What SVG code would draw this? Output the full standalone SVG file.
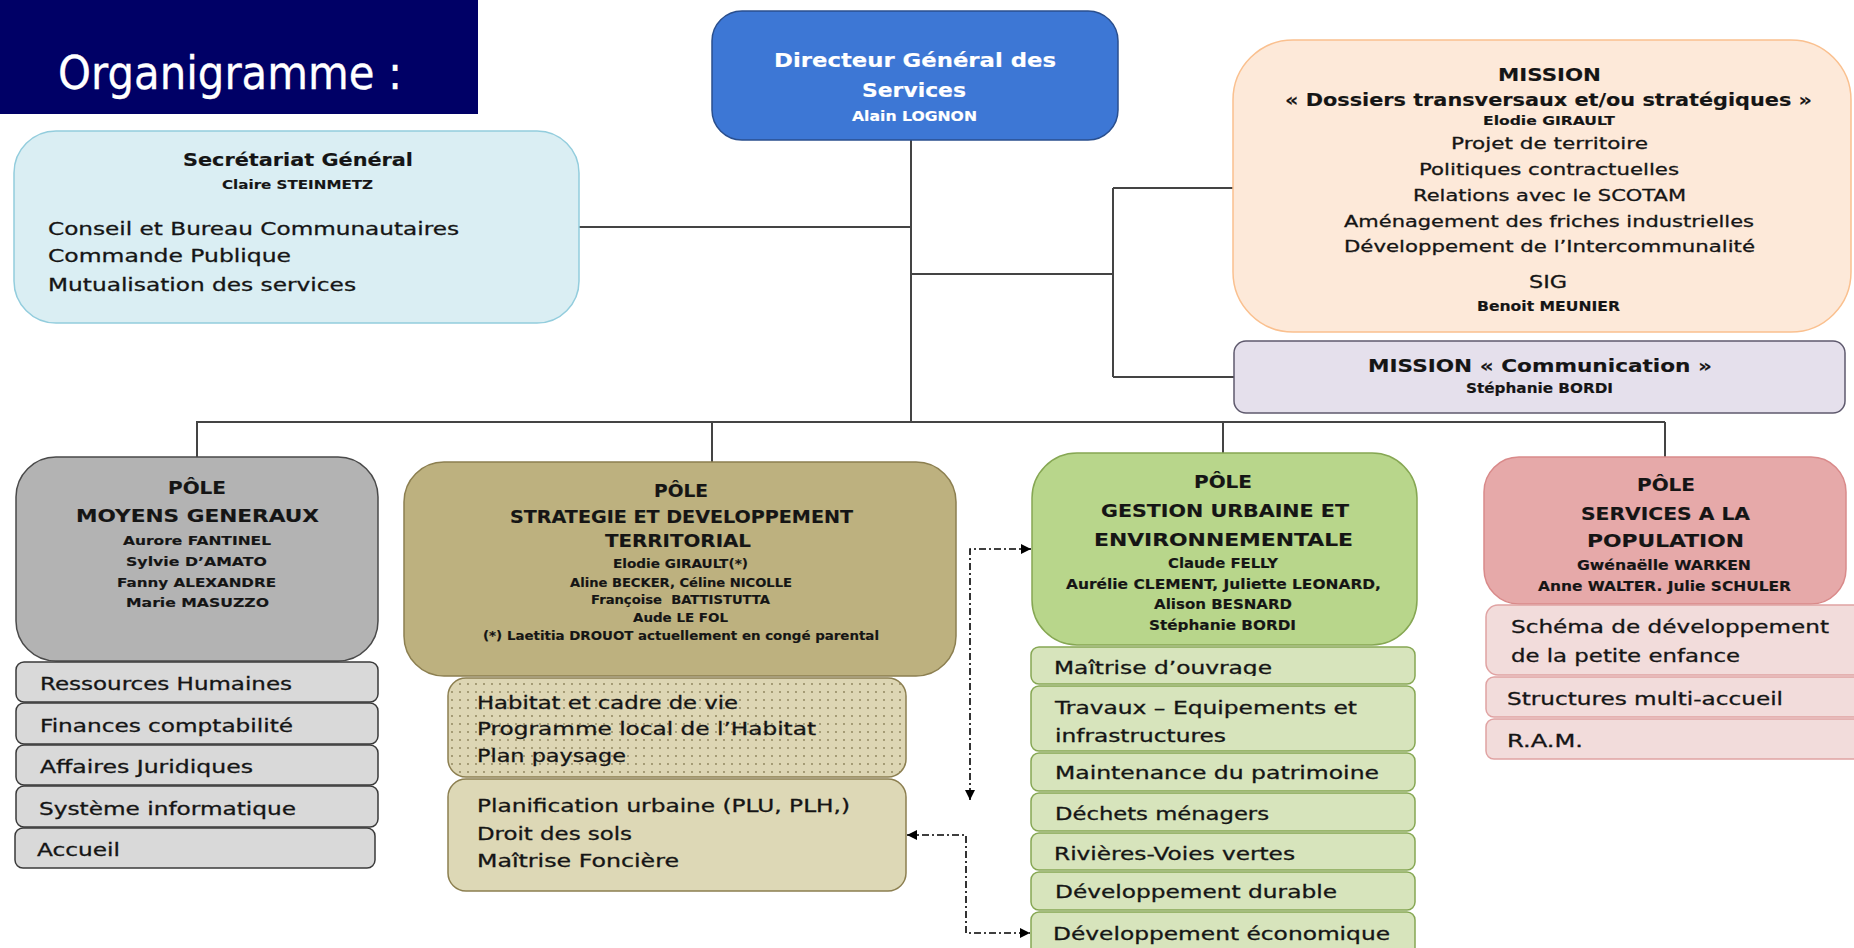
<svg xmlns="http://www.w3.org/2000/svg" width="1854" height="948" viewBox="0 0 1854 948">
<style>
text{font-family:"DejaVu Sans","Liberation Sans",sans-serif;fill:#151515;stroke:#151515;stroke-width:0.3}
.b{font-weight:bold;stroke-width:0.15}
.w{fill:#ffffff;stroke:#ffffff}
.ln{fill:none;stroke:#444;stroke-width:2}
.dd{fill:none;stroke:#000;stroke-width:1.6;stroke-dasharray:7 3 2 3}
.gp{fill:#b3b3b3;stroke:#4a4a4a;stroke-width:1.5}
.gi{fill:#d9d9d9;stroke:#3a3a3a;stroke-width:1.5}
.sp{fill:#bdb17f;stroke:#8c7f50;stroke-width:1.5}
.si{fill:#ddd8b6;stroke:#8c7f50;stroke-width:1.5}
.vp{fill:#b8d68b;stroke:#86a753;stroke-width:1.5}
.vi{fill:#d7e4bc;stroke:#86a753;stroke-width:1.5}
.rp{fill:#e6a9a9;stroke:#d98a8a;stroke-width:1.5}
.ri{fill:#f2dcdb;stroke:#e0a3a3;stroke-width:1.5}
</style>
<defs>
<marker id="ar" viewBox="0 0 10 10" refX="10" refY="5" markerWidth="11" markerHeight="10" markerUnits="userSpaceOnUse" orient="auto-start-reverse">
<path d="M0,0 L10,5 L0,10 z" fill="#000"/>
</marker>
<pattern id="dots" width="8" height="8" patternUnits="userSpaceOnUse">
<rect width="8" height="8" fill="#ddd6b4"/>
<circle cx="4" cy="4" r="0.9" fill="#8a7f58"/>
</pattern>
<clipPath id="c1"><rect x="1031" y="600" width="384" height="32"/></clipPath>
<clipPath id="c2"><rect x="1031" y="647" width="384" height="29"/></clipPath>
</defs>

<g id="title">
<rect x="0" y="0" width="478" height="114" fill="#000066"/>
<text class="w" x="58" y="89" font-size="46" textLength="344" lengthAdjust="spacingAndGlyphs">Organigramme :</text>
</g>

<g id="connectors">
<path class="ln" d="M911 140 V422"/>
<path class="ln" d="M579 227 H911"/>
<path class="ln" d="M911 274 H1113"/>
<path class="ln" d="M1113 188 V377"/>
<path class="ln" d="M1113 188 H1234"/>
<path class="ln" d="M1113 377 H1234"/>
<path class="ln" d="M196 422 H1665"/>
<path class="ln" d="M197 422 V457"/>
<path class="ln" d="M712 422 V462"/>
<path class="ln" d="M1223 422 V453"/>
<path class="ln" d="M1665 422 V457"/>
<path class="dd" d="M1031 549 H970 V800" marker-start="url(#ar)" marker-end="url(#ar)"/>
<path class="dd" d="M907 835 H966 V933 H1030" marker-start="url(#ar)" marker-end="url(#ar)"/>
</g>

<g id="dgs">
<rect x="712" y="11" width="406" height="129" rx="30" fill="#3d77d5" stroke="#2a4f8e" stroke-width="1.5"/>
<text class="w b" x="774" y="67" font-size="20" textLength="282" lengthAdjust="spacingAndGlyphs">Directeur Général des</text>
<text class="w b" x="862" y="97" font-size="20" textLength="104" lengthAdjust="spacingAndGlyphs">Services</text>
<text class="w b" x="852" y="121" font-size="13.5" textLength="125" lengthAdjust="spacingAndGlyphs">Alain LOGNON</text>
</g>

<g id="secretariat">
<rect x="14" y="131" width="565" height="192" rx="42" fill="#daeef3" stroke="#93cddd" stroke-width="1.5"/>
<text class="b" x="183" y="166" font-size="17.5" textLength="230" lengthAdjust="spacingAndGlyphs">Secrétariat Général</text>
<text class="b" x="222" y="189" font-size="13" textLength="151" lengthAdjust="spacingAndGlyphs">Claire STEINMETZ</text>
<text x="48" y="235" font-size="18" textLength="411" lengthAdjust="spacingAndGlyphs">Conseil et Bureau Communautaires</text>
<text x="48" y="262" font-size="18" textLength="243" lengthAdjust="spacingAndGlyphs">Commande Publique</text>
<text x="48" y="291" font-size="18" textLength="308" lengthAdjust="spacingAndGlyphs">Mutualisation des services</text>
</g>

<g id="mission">
<rect x="1233" y="40" width="618" height="292" rx="60" fill="#fde9d9" stroke="#fac08f" stroke-width="1.5"/>
<text class="b" x="1498" y="81" font-size="18" textLength="103" lengthAdjust="spacingAndGlyphs">MISSION</text>
<text class="b" x="1285" y="106" font-size="18" textLength="527" lengthAdjust="spacingAndGlyphs">« Dossiers transversaux et/ou stratégiques »</text>
<text class="b" x="1483" y="125" font-size="12.5" textLength="132" lengthAdjust="spacingAndGlyphs">Elodie GIRAULT</text>
<text x="1451" y="149" font-size="16.5" textLength="197" lengthAdjust="spacingAndGlyphs">Projet de territoire</text>
<text x="1419" y="175" font-size="16.5" textLength="260" lengthAdjust="spacingAndGlyphs">Politiques contractuelles</text>
<text x="1413" y="201" font-size="16.5" textLength="273" lengthAdjust="spacingAndGlyphs">Relations avec le SCOTAM</text>
<text x="1344" y="227" font-size="16.5" textLength="410" lengthAdjust="spacingAndGlyphs">Aménagement des friches industrielles</text>
<text x="1344" y="252" font-size="16.5" textLength="411" lengthAdjust="spacingAndGlyphs">Développement de l’Intercommunalité</text>
<text x="1529" y="288" font-size="17.5" textLength="38" lengthAdjust="spacingAndGlyphs">SIG</text>
<text class="b" x="1477" y="311" font-size="13.5" textLength="143" lengthAdjust="spacingAndGlyphs">Benoit MEUNIER</text>
</g>

<g id="communication">
<rect x="1234" y="341" width="611" height="72" rx="12" fill="#e5e0ec" stroke="#5f5a6e" stroke-width="1.5"/>
<text class="b" x="1368" y="372" font-size="18" textLength="344" lengthAdjust="spacingAndGlyphs">MISSION « Communication »</text>
<text class="b" x="1466" y="393" font-size="13.5" textLength="147" lengthAdjust="spacingAndGlyphs">Stéphanie BORDI</text>
</g>

<g id="pole-moyens">
<rect class="gp" x="16" y="457" width="362" height="204" rx="40"/>
<text class="b" x="168" y="494" font-size="17" textLength="58" lengthAdjust="spacingAndGlyphs">PÔLE</text>
<text class="b" x="76" y="522" font-size="17" textLength="243" lengthAdjust="spacingAndGlyphs">MOYENS GENERAUX</text>
<text class="b" x="123" y="545" font-size="12.5" textLength="148" lengthAdjust="spacingAndGlyphs">Aurore FANTINEL</text>
<text class="b" x="126" y="566" font-size="12.5" textLength="141" lengthAdjust="spacingAndGlyphs">Sylvie D’AMATO</text>
<text class="b" x="117" y="587" font-size="12.5" textLength="159" lengthAdjust="spacingAndGlyphs">Fanny ALEXANDRE</text>
<text class="b" x="126" y="607" font-size="12.5" textLength="143" lengthAdjust="spacingAndGlyphs">Marie MASUZZO</text>
</g>
<g id="moyens-items">
<rect class="gi" x="16" y="662" width="362" height="40" rx="8"/>
<text x="40" y="690" font-size="18" textLength="252" lengthAdjust="spacingAndGlyphs">Ressources Humaines</text>
<rect class="gi" x="16" y="703" width="362" height="41" rx="8"/>
<text x="40" y="732" font-size="18" textLength="253" lengthAdjust="spacingAndGlyphs">Finances comptabilité</text>
<rect class="gi" x="16" y="745" width="362" height="40" rx="8"/>
<text x="40" y="773" font-size="18" textLength="213" lengthAdjust="spacingAndGlyphs">Affaires Juridiques</text>
<rect class="gi" x="16" y="786" width="362" height="41" rx="8"/>
<text x="39" y="815" font-size="18" textLength="257" lengthAdjust="spacingAndGlyphs">Système informatique</text>
<rect class="gi" x="15" y="828" width="360" height="40" rx="8"/>
<text x="37" y="856" font-size="18" textLength="83" lengthAdjust="spacingAndGlyphs">Accueil</text>
</g>

<g id="pole-strategie">
<rect class="sp" x="404" y="462" width="552" height="214" rx="40"/>
<text class="b" x="654" y="497" font-size="17" textLength="54" lengthAdjust="spacingAndGlyphs">PÔLE</text>
<text class="b" x="510" y="523" font-size="17" textLength="343" lengthAdjust="spacingAndGlyphs">STRATEGIE ET DEVELOPPEMENT</text>
<text class="b" x="605" y="547" font-size="17" textLength="146" lengthAdjust="spacingAndGlyphs">TERRITORIAL</text>
<text class="b" x="613" y="568" font-size="12.5" textLength="135" lengthAdjust="spacingAndGlyphs">Elodie GIRAULT(*)</text>
<text class="b" x="570" y="587" font-size="12.5" textLength="222" lengthAdjust="spacingAndGlyphs">Aline BECKER, Céline NICOLLE</text>
<text class="b" x="591" y="604" font-size="12.5" textLength="179" lengthAdjust="spacingAndGlyphs" xml:space="preserve">Françoise  BATTISTUTTA</text>
<text class="b" x="633" y="622" font-size="12.5" textLength="95" lengthAdjust="spacingAndGlyphs">Aude LE FOL</text>
<text class="b" x="483" y="640" font-size="12.5" textLength="396" lengthAdjust="spacingAndGlyphs">(*) Laetitia DROUOT actuellement en congé parental</text>
</g>
<g id="strategie-habitat">
<rect x="448" y="678" width="458" height="99" rx="18" fill="url(#dots)" stroke="#8c7f50" stroke-width="1.5"/>
<text x="477" y="709" font-size="17.5" textLength="261" lengthAdjust="spacingAndGlyphs">Habitat et cadre de vie</text>
<text x="477" y="735" font-size="17.5" textLength="339" lengthAdjust="spacingAndGlyphs">Programme local de l’Habitat</text>
<text x="477" y="762" font-size="17.5" textLength="149" lengthAdjust="spacingAndGlyphs">Plan paysage</text>
</g>
<g id="strategie-planification">
<rect class="si" x="448" y="779" width="458" height="112" rx="18"/>
<text x="477" y="812" font-size="17.5" textLength="373" lengthAdjust="spacingAndGlyphs">Planification urbaine (PLU, PLH,)</text>
<text x="477" y="840" font-size="17.5" textLength="155" lengthAdjust="spacingAndGlyphs">Droit des sols</text>
<text x="477" y="867" font-size="17.5" textLength="202" lengthAdjust="spacingAndGlyphs">Maîtrise Foncière</text>
</g>

<g id="pole-gestion">
<rect class="vp" x="1032" y="453" width="385" height="192" rx="45"/>
<text class="b" x="1194" y="488" font-size="17" textLength="58" lengthAdjust="spacingAndGlyphs">PÔLE</text>
<text class="b" x="1101" y="517" font-size="17" textLength="248" lengthAdjust="spacingAndGlyphs">GESTION URBAINE ET</text>
<text class="b" x="1094" y="546" font-size="17" textLength="259" lengthAdjust="spacingAndGlyphs">ENVIRONNEMENTALE</text>
<text class="b" x="1168" y="568" font-size="13.5" textLength="110" lengthAdjust="spacingAndGlyphs">Claude FELLY</text>
<text class="b" x="1066" y="589" font-size="13.5" textLength="315" lengthAdjust="spacingAndGlyphs">Aurélie CLEMENT, Juliette LEONARD,</text>
<text class="b" x="1154" y="609" font-size="13.5" textLength="138" lengthAdjust="spacingAndGlyphs">Alison BESNARD</text>
<text class="b" x="1149" y="630" font-size="13.5" textLength="147" lengthAdjust="spacingAndGlyphs" clip-path="url(#c1)">Stéphanie BORDI</text>
</g>
<g id="gestion-items">
<rect class="vi" x="1031" y="647" width="384" height="37" rx="8"/>
<text x="1054" y="674" font-size="17.5" textLength="218" lengthAdjust="spacingAndGlyphs" clip-path="url(#c2)">Maîtrise d’ouvrage</text>
<rect class="vi" x="1031" y="686" width="384" height="65" rx="8"/>
<text x="1055" y="714" font-size="17.5" textLength="302" lengthAdjust="spacingAndGlyphs">Travaux – Equipements et</text>
<text x="1055" y="742" font-size="17.5" textLength="171" lengthAdjust="spacingAndGlyphs">infrastructures</text>
<rect class="vi" x="1031" y="753" width="384" height="38" rx="8"/>
<text x="1055" y="779" font-size="17.5" textLength="324" lengthAdjust="spacingAndGlyphs">Maintenance du patrimoine</text>
<rect class="vi" x="1031" y="793" width="384" height="38" rx="8"/>
<text x="1055" y="820" font-size="17.5" textLength="214" lengthAdjust="spacingAndGlyphs">Déchets ménagers</text>
<rect class="vi" x="1031" y="833" width="384" height="37" rx="8"/>
<text x="1054" y="860" font-size="17.5" textLength="241" lengthAdjust="spacingAndGlyphs">Rivières-Voies vertes</text>
<rect class="vi" x="1031" y="872" width="384" height="38" rx="8"/>
<text x="1055" y="898" font-size="17.5" textLength="282" lengthAdjust="spacingAndGlyphs">Développement durable</text>
<rect class="vi" x="1031" y="912" width="384" height="50" rx="8"/>
<text x="1053" y="940" font-size="17.5" textLength="337" lengthAdjust="spacingAndGlyphs">Développement économique</text>
</g>

<g id="pole-services">
<rect class="rp" x="1484" y="457" width="362" height="147" rx="35"/>
<text class="b" x="1637" y="491" font-size="17" textLength="58" lengthAdjust="spacingAndGlyphs">PÔLE</text>
<text class="b" x="1581" y="520" font-size="17" textLength="169" lengthAdjust="spacingAndGlyphs">SERVICES A LA</text>
<text class="b" x="1587" y="547" font-size="17" textLength="157" lengthAdjust="spacingAndGlyphs">POPULATION</text>
<text class="b" x="1577" y="570" font-size="13.5" textLength="174" lengthAdjust="spacingAndGlyphs">Gwénaëlle WARKEN</text>
<text class="b" x="1538" y="591" font-size="13.5" textLength="253" lengthAdjust="spacingAndGlyphs">Anne WALTER. Julie SCHULER</text>
</g>
<g id="services-items">
<rect class="ri" x="1486" y="605" width="380" height="70" rx="12"/>
<text x="1511" y="633" font-size="18" textLength="318" lengthAdjust="spacingAndGlyphs">Schéma de développement</text>
<text x="1511" y="662" font-size="18" textLength="229" lengthAdjust="spacingAndGlyphs">de la petite enfance</text>
<rect class="ri" x="1486" y="677" width="380" height="40" rx="8"/>
<text x="1507" y="705" font-size="18" textLength="276" lengthAdjust="spacingAndGlyphs">Structures multi-accueil</text>
<rect class="ri" x="1486" y="719" width="380" height="40" rx="8"/>
<text x="1507" y="747" font-size="18" textLength="76" lengthAdjust="spacingAndGlyphs">R.A.M.</text>
</g>
</svg>
